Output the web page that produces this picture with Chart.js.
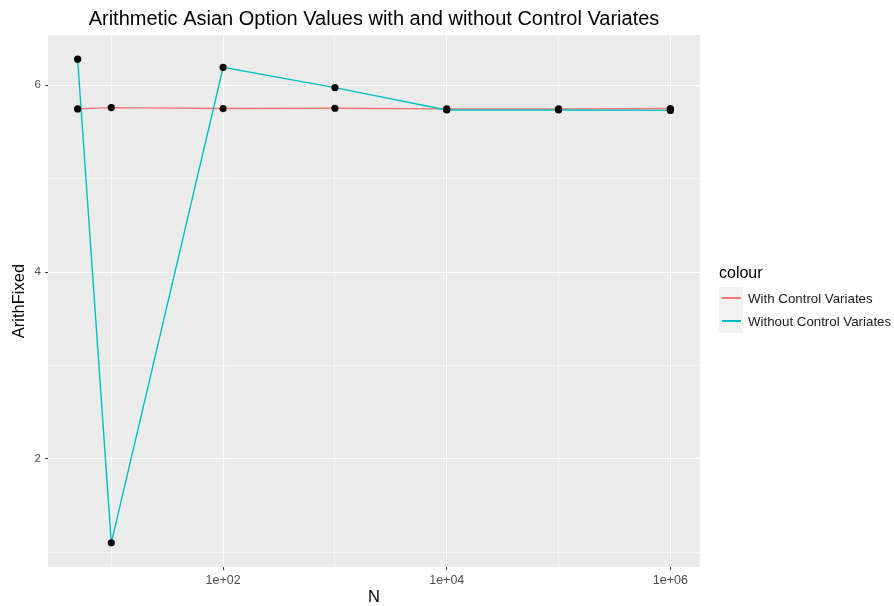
<!DOCTYPE html>
<html>
<head>
<meta charset="utf-8">
<script src="https://cdn.jsdelivr.net/npm/chart.js@4"></script>
<style>
  body { margin: 0; background: #ffffff; font-family: "Liberation Sans", Arial, sans-serif; }
  #wrap { position: relative; width: 894px; height: 606px; }
  #legend { position: absolute; left: 719px; top: 261px; color: #000; }
  #legend .ttl { font-size: 16px; height: 26px; line-height: 23px; }
  #legend .row { display: flex; align-items: center; height: 23px; }
  #legend .key { width: 24px; height: 23px; background: #f2f2f2; position: relative; }
  #legend .key span { position: absolute; left: 3px; right: 2px; top: 10px; height: 2px; }
  #legend .lbl { font-size: 13.3px; margin-left: 5px; color: #1a1a1a; }
</style>
</head>
<body>
<div id="wrap">
  <canvas id="chart" width="894" height="606"></canvas>
  <div id="legend">
    <div class="ttl">colour</div>
    <div class="row"><div class="key"><span style="background:#F8766D"></span></div><div class="lbl">With Control Variates</div></div>
    <div class="row"><div class="key"><span style="background:#00BFC4"></span></div><div class="lbl">Without Control Variates</div></div>
  </div>
</div>
<script>
const nValues = [5, 10, 100, 1000, 10000, 100000, 1000000];
const withCV = [5.746, 5.76, 5.75, 5.753, 5.746, 5.746, 5.75];
const withoutCV = [6.278, 1.103, 6.19, 5.974, 5.735, 5.735, 5.73];
const seriesNames = ["With Control Variates", "Without Control Variates"];
const seriesColors = ["#F8766D", "#00BFC4"];
const xTicks = [10, 100, 1000, 10000, 100000, 1000000];
const xLabels = { 100: "1e+02", 10000: "1e+04", 1000000: "1e+06" };
const yTicks = [1, 2, 3, 4, 5, 6];
const yLabels = { 2: "2", 4: "4", 6: "6" };

const toPoints = vals => vals.map((v, i) => ({ x: nValues[i], y: v }));

const panelBg = {
    id: "panelBg",
    beforeDraw(chart) {
        const a = chart.chartArea;
        const c = chart.ctx;
        c.save();
        c.fillStyle = "#EBEBEB";
        c.fillRect(a.left, a.top, a.right - a.left, a.bottom - a.top);
        c.restore();
    }
};

let ctx = document.getElementById("chart").getContext("2d");

let chart = new Chart(ctx, {
    type: "scatter",
    data: {
        datasets: [
            {
                label: "points",
                data: toPoints(withCV).concat(toPoints(withoutCV)),
                showLine: false,
                pointRadius: 3.6,
                pointBackgroundColor: "#000000",
                pointBorderWidth: 0,
                order: 0
            },
            {
                label: seriesNames[1],
                data: toPoints(withoutCV),
                showLine: true,
                borderColor: seriesColors[1],
                borderWidth: 1.4,
                pointRadius: 0,
                order: 1
            },
            {
                label: seriesNames[0],
                data: toPoints(withCV),
                showLine: true,
                borderColor: seriesColors[0],
                borderWidth: 1.4,
                pointRadius: 0,
                order: 2
            }
        ]
    },
    options: {
        responsive: false,
        animation: false,
        layout: { padding: { left: 0, right: 194, top: 0, bottom: 0 } },
        plugins: {
            legend: { display: false },
            tooltip: { enabled: false },
            title: {
                display: true,
                fullSize: false,
                text: "Arithmetic Asian Option Values with and without Control Variates",
                color: "#000000",
                font: { family: "Liberation Sans", size: 20, weight: "normal" },
                padding: { top: 7, bottom: 4 }
            }
        },
        scales: {
            x: {
                type: "logarithmic",
                min: 2.716,
                max: 1841000,
                afterBuildTicks: s => { s.ticks = xTicks.map(v => ({ value: v })); },
                afterFit: s => { s.height = 39; },
                ticks: {
                    autoSkip: false,
                    maxRotation: 0,
                    padding: 3,
                    color: "#4D4D4D",
                    font: { family: "Liberation Sans", size: 12.5 },
                    callback: v => xLabels[v] || ""
                },
                grid: {
                    color: "#ffffff",
                    lineWidth: c => (xLabels[c.tick && c.tick.value] ? 1.1 : 0.55),
                    tickLength: 3,
                    tickWidth: 1,
                    tickColor: c => (xLabels[c.tick && c.tick.value] ? "#333333" : "rgba(0,0,0,0)")
                },
                border: { display: false },
                title: {
                    display: true,
                    text: "N",
                    color: "#000000",
                    font: { family: "Liberation Sans", size: 16.5 },
                    padding: { top: 0, bottom: -1 }
                }
            },
            y: {
                type: "linear",
                min: 0.844,
                max: 6.537,
                afterBuildTicks: s => { s.ticks = yTicks.map(v => ({ value: v })); },
                afterFit: s => { s.width = 48; },
                ticks: {
                    padding: 4,
                    color: "#4D4D4D",
                    font: { family: "Liberation Sans", size: 11.5 },
                    callback: v => yLabels[v] || ""
                },
                grid: {
                    color: "#ffffff",
                    lineWidth: c => (yLabels[c.tick && c.tick.value] ? 1.1 : 0.55),
                    tickLength: 3,
                    tickWidth: 1,
                    tickColor: c => (yLabels[c.tick && c.tick.value] ? "#333333" : "rgba(0,0,0,0)")
                },
                border: { display: false },
                title: {
                    display: true,
                    text: "ArithFixed",
                    color: "#000000",
                    font: { family: "Liberation Sans", size: 16.5 },
                    padding: { top: 10, bottom: 0 }
                }
            }
        }
    },
    plugins: [panelBg]
});
</script>
</body>
</html>
